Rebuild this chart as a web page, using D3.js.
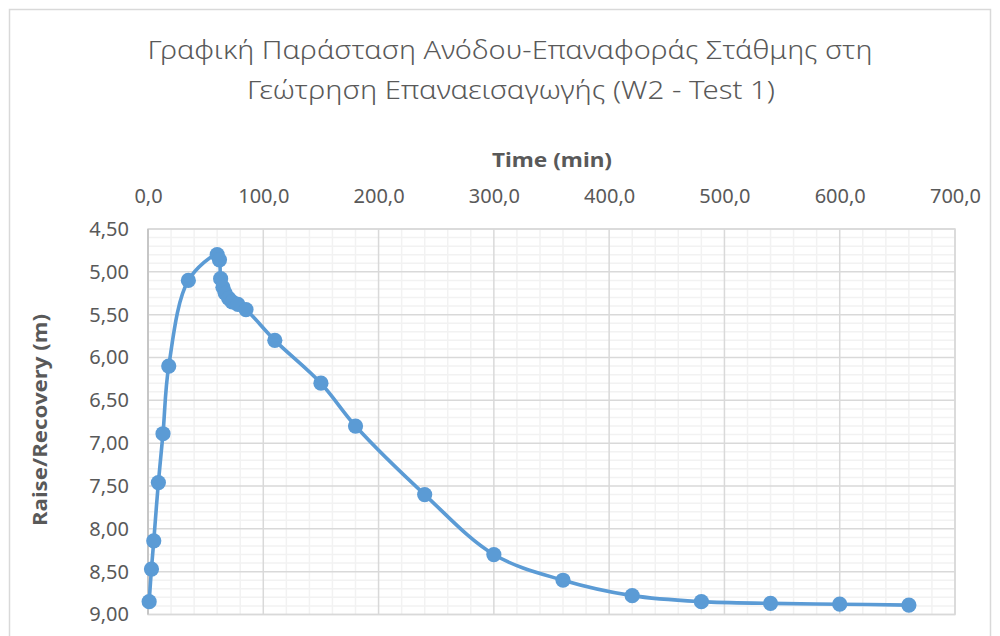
<!DOCTYPE html>
<html>
<head>
<meta charset="utf-8">
<script src="https://cdn.jsdelivr.net/npm/d3@7"></script>
<style>
  html, body { margin: 0; padding: 0; background: #fff; }
  svg { display: block; }
  text { font-family: "Noto Sans", "Open Sans", sans-serif; fill: #595959; }
</style>
</head>
<body>
<svg id="chart" width="1000" height="636"></svg>
<script>
// Time since start of test (min) and water level (m)
const timeMin = [1, 3, 5, 9, 13, 18, 35, 60, 62, 63, 65, 67, 70, 73, 78, 85,
                 110, 150, 180, 240, 300, 360, 420, 480, 540, 600, 660];
const levelM  = [8.85, 8.47, 8.14, 7.46, 6.89, 6.10, 5.10, 4.80, 4.86, 5.08, 5.18, 5.25, 5.31, 5.35, 5.38, 5.44,
                 5.80, 6.30, 6.80, 7.60, 8.30, 8.60, 8.78, 8.85, 8.87, 8.88, 8.89];

const xTicks = [0, 100, 200, 300, 400, 500, 600, 700];
const yTicks = [4.5, 5.0, 5.5, 6.0, 6.5, 7.0, 7.5, 8.0, 8.5, 9.0];

const titleLines = ["Γραφική Παράσταση Ανόδου-Επαναφοράς Στάθμης στη",
                    "Γεώτρηση Επαναεισαγωγής (W2 - Test 1)"];
const xTitle = "Time (min)";
const yTitle = "Raise/Recovery (m)";

const svg = d3.select("#chart");
const blue = "#5b9bd5";

const plot = { left: 148, right: 955, top: 229, bottom: 614.5 };

const x = d3.scaleLinear().domain([0, 700]).range([plot.left, plot.right]);
const y = d3.scaleLinear().domain([4.5, 9.0]).range([plot.top, plot.bottom]);

const fmt = v => d3.format(".1f")(v).replace(".", ",");
const fmtY = v => d3.format(".2f")(v).replace(".", ",");

// chart frame
svg.append("rect")
  .attr("x", 9.5).attr("y", 9.5).attr("width", 981).attr("height", 640)
  .attr("fill", "#fff").attr("stroke", "#d9d9d9").attr("stroke-width", 1.5);

// minor gridlines
const g = svg.append("g");
g.selectAll(".vminor").data(d3.range(0, 701, 20).filter(v => v % 100 !== 0))
  .join("line")
  .attr("x1", d => x(d)).attr("x2", d => x(d))
  .attr("y1", plot.top).attr("y2", plot.bottom)
  .attr("stroke", "#f2f2f2").attr("stroke-width", 1.5);
g.selectAll(".hminor").data(d3.range(45, 91, 1).map(v => v / 10).filter(v => Math.round(v * 10) % 5 !== 0))
  .join("line")
  .attr("x1", plot.left).attr("x2", plot.right)
  .attr("y1", d => y(d)).attr("y2", d => y(d))
  .attr("stroke", "#f2f2f2").attr("stroke-width", 1.5);

// major gridlines
g.selectAll(".vmajor").data(xTicks)
  .join("line")
  .attr("x1", d => x(d)).attr("x2", d => x(d))
  .attr("y1", plot.top).attr("y2", plot.bottom)
  .attr("stroke", "#d9d9d9").attr("stroke-width", 1.5);
g.selectAll(".hmajor").data(yTicks)
  .join("line")
  .attr("x1", plot.left).attr("x2", plot.right)
  .attr("y1", d => y(d)).attr("y2", d => y(d))
  .attr("stroke", "#d9d9d9").attr("stroke-width", 1.5);

// plot border
svg.append("rect")
  .attr("x", plot.left).attr("y", plot.top)
  .attr("width", plot.right - plot.left).attr("height", plot.bottom - plot.top)
  .attr("fill", "none").attr("stroke", "#d9d9d9").attr("stroke-width", 1.5);
svg.append("line")
  .attr("x1", plot.left).attr("x2", plot.left).attr("y1", plot.top).attr("y2", plot.bottom)
  .attr("stroke", "#bfbfbf").attr("stroke-width", 1.5);

// axes (top x axis, left y axis) with labels only
const xAxis = d3.axisTop(x).tickValues(xTicks).tickFormat(fmt).tickSize(0).tickPadding(0);
const xa = svg.append("g").attr("transform", `translate(0,${plot.top - 26})`).call(xAxis);
xa.select(".domain").remove();
xa.selectAll("text").attr("font-size", 20).attr("fill", "#595959")
  .style("font-family", '"Noto Sans", sans-serif');

const yAxis = d3.axisLeft(y).tickValues(yTicks).tickFormat(fmtY).tickSize(0).tickPadding(0);
const ya = svg.append("g").attr("transform", `translate(${plot.left - 19},0)`).call(yAxis);
ya.select(".domain").remove();
ya.selectAll("text").attr("font-size", 20).attr("fill", "#595959")
  .style("font-family", '"Noto Sans", sans-serif');

// series: smoothed line and markers
const line = d3.line()
  .x((d, i) => x(timeMin[i]))
  .y(d => y(d))
  .curve(d3.curveCatmullRom.alpha(0.5));

svg.append("path")
  .datum(levelM)
  .attr("d", line)
  .attr("fill", "none")
  .attr("stroke", blue)
  .attr("stroke-width", 3.6)
  .attr("stroke-linejoin", "round");

svg.append("g").selectAll("circle")
  .data(levelM)
  .join("circle")
  .attr("cx", (d, i) => x(timeMin[i]))
  .attr("cy", d => y(d))
  .attr("r", 7.6)
  .attr("fill", blue);

// titles
svg.append("text").attr("x", 510).attr("y", 59)
  .attr("text-anchor", "middle").attr("font-size", 25).attr("font-weight", 300)
  .attr("textLength", 725).attr("lengthAdjust", "spacingAndGlyphs")
  .text(titleLines[0]);
svg.append("text").attr("x", 511).attr("y", 99)
  .attr("text-anchor", "middle").attr("font-size", 25).attr("font-weight", 300)
  .attr("textLength", 528).attr("lengthAdjust", "spacingAndGlyphs")
  .text(titleLines[1]);

svg.append("text").attr("x", 552).attr("y", 167)
  .attr("text-anchor", "middle").attr("font-size", 19).attr("font-weight", "bold")
  .attr("textLength", 120).attr("lengthAdjust", "spacingAndGlyphs")
  .text(xTitle);

svg.append("text")
  .attr("transform", "translate(47,420) rotate(-90)")
  .attr("text-anchor", "middle").attr("font-size", 19).attr("font-weight", "bold")
  .attr("textLength", 212).attr("lengthAdjust", "spacingAndGlyphs")
  .text(yTitle);
</script>
</body>
</html>
